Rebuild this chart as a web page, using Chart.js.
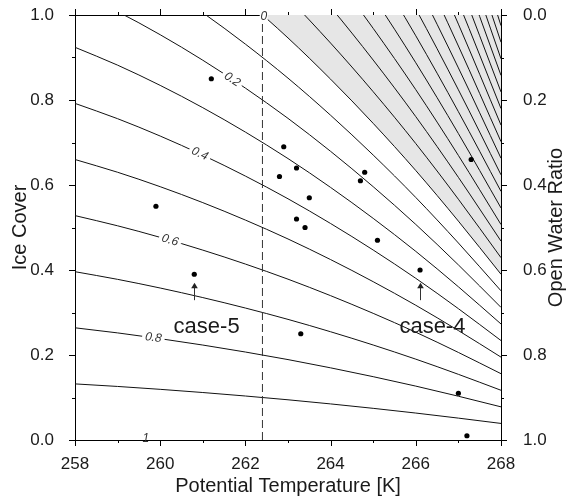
<!DOCTYPE html>
<html>
<head>
<meta charset="utf-8">
<script src="https://cdn.jsdelivr.net/npm/chart.js@4.4.1/dist/chart.umd.min.js"></script>
<style>
  html, body { margin: 0; padding: 0; background: #fff; }
  #wrap { width: 570px; height: 499px; }
</style>
</head>
<body>
<div id="wrap"><canvas id="iceChart"></canvas></div>
<script>
// temperature rows of the contour table [K]
const temps = [258, 259, 260, 261, 262, 263, 264, 265, 266, 267, 268];
// ice cover along the zero contour at each temperature
const zeroIce = [1.320, 1.260, 1.192, 1.117, 1.035, 0.946, 0.849, 0.745, 0.634, 0.515, 0.390];
// contour levels, negative ones sit in the shaded corner
const levels = [-1.5, -1.4, -1.3, -1.2, -1.1, -1.0, -0.9, -0.8, -0.7, -0.6, -0.5, -0.4, -0.3, -0.2, -0.1,
                0, 0.1, 0.2, 0.3, 0.4, 0.5, 0.6, 0.7, 0.8, 0.9];
// observations
const obsTemp = [261.2, 262.9, 263.2, 262.8, 263.5, 263.2, 263.4, 259.9, 264.8, 264.7, 267.3, 260.8, 263.3, 265.1, 266.1, 267.0, 267.2];
const obsIce  = [0.85, 0.69, 0.64, 0.62, 0.57, 0.52, 0.50, 0.55, 0.63, 0.61, 0.66, 0.39, 0.25, 0.47, 0.40, 0.11, 0.01];
// highlighted cases
const caseNames = ['case-5', 'case-4'];
const caseTemp = [260.8, 266.1];
// freezing threshold
const thresholdTemp = 262.4;

const FONT = '"Liberation Sans", Arial, Helvetica, sans-serif';
Chart.defaults.font.family = FONT;
Chart.defaults.color = '#1a1a1a';

// line level -> ice cover at temperature t (between table rows)
function iceOnLevel(level, t) {
  let i = Math.floor(t - temps[0]);
  i = Math.max(0, Math.min(temps.length - 2, i));
  const f = (t - temps[i]) / (temps[i + 1] - temps[i]);
  return (1 - level) * (zeroIce[i] + f * (zeroIce[i + 1] - zeroIce[i]));
}

const contourSets = levels.map(level => ({
  label: 'c' + level,
  data: temps.map((t, i) => ({ x: t, y: (1 - level) * zeroIce[i] })),
  showLine: true,
  borderColor: '#111',
  borderWidth: 1,
  pointRadius: 0,
  cubicInterpolationMode: 'monotone',
  fill: level === 0 ? 'end' : false,
  backgroundColor: '#e6e6e6'
}));

const thresholdSet = {
  label: 'threshold',
  data: [{ x: thresholdTemp, y: 0 }, { x: thresholdTemp, y: 1 }],
  showLine: true,
  borderColor: '#333',
  borderWidth: 1,
  borderDash: [8, 4],
  pointRadius: 0,
  fill: false
};

const obsSet = {
  label: 'obs',
  data: obsTemp.map((t, i) => ({ x: t, y: obsIce[i] })),
  showLine: false,
  pointRadius: 2.6,
  pointBackgroundColor: '#000',
  pointBorderWidth: 0
};

// contour labels along the lines
const contourLabels = [
  { text: '0.2', level: 0.2, t: 261.69 },
  { text: '0.4', level: 0.4, t: 260.93 },
  { text: '0.6', level: 0.6, t: 260.23 },
  { text: '0.8', level: 0.8, t: 259.84 }
];

const isMajorX = v => Math.round(v) % 2 === 0;
const isMajorY = v => Math.round(v * 10) % 2 === 0;

const overlayPlugin = {
  id: 'overlay',
  afterDatasetsDraw(chart) {
    const ctx = chart.ctx;
    const xs = chart.scales.x, ys = chart.scales.y;
    ctx.save();
    ctx.font = 'italic 12px ' + FONT;
    ctx.textAlign = 'center';
    ctx.textBaseline = 'middle';
    contourLabels.forEach(lb => {
      const px = xs.getPixelForValue(lb.t);
      const py = ys.getPixelForValue(iceOnLevel(lb.level, lb.t));
      const x0 = xs.getPixelForValue(lb.t - 0.2), y0 = ys.getPixelForValue(iceOnLevel(lb.level, lb.t - 0.2));
      const x1 = xs.getPixelForValue(lb.t + 0.2), y1 = ys.getPixelForValue(iceOnLevel(lb.level, lb.t + 0.2));
      const ang = Math.atan2(y1 - y0, x1 - x0);
      const w = ctx.measureText(lb.text).width;
      ctx.save();
      ctx.translate(px, py);
      ctx.rotate(ang);
      ctx.fillStyle = '#fff';
      ctx.fillRect(-w / 2 - 3, -5, w + 6, 10);
      ctx.fillStyle = '#333';
      ctx.fillText(lb.text, 0, 0);
      ctx.restore();
    });
    // end labels of the zero and unit contours
    ctx.fillStyle = '#fff';
    const zx = xs.getPixelForValue(thresholdTemp + 0.03), zy = ys.getPixelForValue(0.997);
    ctx.fillRect(zx - 4, zy - 4, 8, 9);
    ctx.fillStyle = '#333';
    ctx.fillText('0', zx, zy);
    ctx.fillText('1', xs.getPixelForValue(259.66), ys.getPixelForValue(0) - 1);

    // arrows under the highlighted cases
    ctx.strokeStyle = '#333';
    ctx.fillStyle = '#222';
    ctx.lineWidth = 1;
    caseTemp.forEach(t => {
      const ax = Math.round(xs.getPixelForValue(t)) + 0.5;
      const tail = ys.getPixelForValue(0.329), tip = ys.getPixelForValue(0.370);
      ctx.beginPath();
      ctx.moveTo(ax, tail);
      ctx.lineTo(ax, tip + 4);
      ctx.stroke();
      ctx.beginPath();
      ctx.moveTo(ax, tip);
      ctx.lineTo(ax - 3.3, tip + 5.5);
      ctx.lineTo(ax + 3.3, tip + 5.5);
      ctx.closePath();
      ctx.fill();
    });

    // case names
    ctx.font = '22px ' + FONT;
    ctx.fillStyle = '#1a1a1a';
    const namePos = [261.09, 266.39];
    caseNames.forEach((name, i) => {
      ctx.fillText(name, xs.getPixelForValue(namePos[i]), ys.getPixelForValue(0.265));
    });
    ctx.restore();
  },
  afterDraw(chart) {
    const ctx = chart.ctx;
    const area = chart.chartArea;
    ctx.save();
    ctx.strokeStyle = '#000';
    ctx.lineWidth = 1;
    ctx.beginPath();
    const axes = [
      ['x', 'bottom', isMajorX], ['xTop', 'top', isMajorX],
      ['y', 'left', isMajorY], ['yRight', 'right', isMajorY]
    ];
    axes.forEach(([id, side, isMajor]) => {
      const sc = chart.scales[id];
      sc.ticks.forEach(tk => {
        const len = isMajor(tk.value) ? 6 : 3;
        const p = Math.round(sc.getPixelForValue(tk.value)) + 0.5;
        if (side === 'bottom') { ctx.moveTo(p, area.bottom); ctx.lineTo(p, area.bottom + len); }
        if (side === 'top') { ctx.moveTo(p, area.top); ctx.lineTo(p, area.top - len); }
        if (side === 'left') { ctx.moveTo(area.left, p); ctx.lineTo(area.left - len, p); }
        if (side === 'right') { ctx.moveTo(area.right, p); ctx.lineTo(area.right + len, p); }
      });
    });
    ctx.stroke();

    // right-hand axis title, read bottom to top
    ctx.font = '20px ' + FONT;
    ctx.fillStyle = '#1a1a1a';
    ctx.textAlign = 'center';
    ctx.textBaseline = 'middle';
    ctx.translate(556, (area.top + area.bottom) / 2);
    ctx.rotate(-Math.PI / 2);
    ctx.fillText('Open Water Ratio', 0, 0);
    ctx.restore();
  }
};

const border = { display: true, color: '#000', width: 1 };
const tickFont = { size: 17 };

// fixed box sizes so the plot area stays put
function fixWidth(w) {
  return s => { s.width = w; s.paddingTop = 0; s.paddingBottom = 0; };
}
function fixHeight(h) {
  return s => { s.height = h; s.paddingLeft = 0; s.paddingRight = 0; };
}

new Chart(document.getElementById('iceChart'), {
  type: 'scatter',
  data: { datasets: [obsSet, thresholdSet, ...contourSets] },
  options: {
    responsive: true,
    maintainAspectRatio: false,
    animation: false,
    events: [],
    layout: { padding: 0 },
    plugins: {
      legend: { display: false },
      tooltip: { enabled: false },
      filler: { drawTime: 'beforeDatasetsDraw' }
    },
    scales: {
      x: {
        type: 'linear', position: 'bottom', min: 258, max: 268,
        grid: { display: false }, border,
        ticks: { stepSize: 1, autoSkip: false, maxRotation: 0, padding: 6, font: tickFont,
                 callback: v => isMajorX(v) ? String(v) : '' },
        title: { display: true, text: 'Potential Temperature [K]', font: { size: 20 }, padding: { top: 0, bottom: 1 } },
        afterFit: fixHeight(59)
      },
      xTop: {
        type: 'linear', position: 'top', min: 258, max: 268,
        grid: { display: false }, border,
        ticks: { stepSize: 1, autoSkip: false, display: false },
        afterFit: fixHeight(15)
      },
      y: {
        type: 'linear', position: 'left', min: 0, max: 1,
        grid: { display: false }, border,
        ticks: { stepSize: 0.1, autoSkip: false, padding: 13, font: tickFont,
                 callback: v => isMajorY(v) ? v.toFixed(1) : '' },
        title: { display: true, text: 'Ice Cover', font: { size: 20 }, padding: { top: 8, bottom: 0 } },
        afterFit: fixWidth(75)
      },
      yRight: {
        type: 'linear', position: 'right', min: 0, max: 1, reverse: true,
        grid: { display: false }, border,
        ticks: { stepSize: 0.1, autoSkip: false, padding: 14, font: tickFont,
                 callback: v => isMajorY(v) ? v.toFixed(1) : '' },
        afterFit: fixWidth(69)
      }
    }
  },
  plugins: [overlayPlugin]
});
</script>
</body>
</html>
